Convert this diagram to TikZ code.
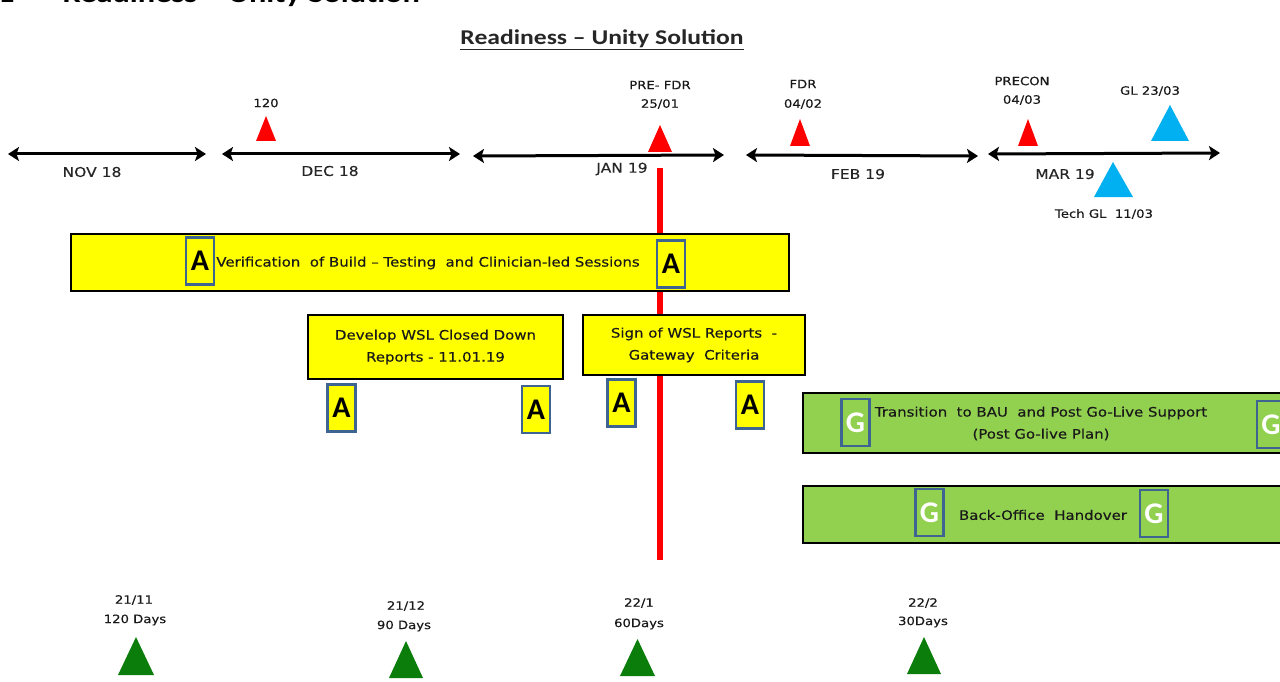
\documentclass[tikz,border=0pt]{standalone}
\usepackage{fontspec}
\setmainfont{DejaVu Sans}
\newfontfamily\labelfont[FakeStretch=1.15,FakeBold=0.35]{DejaVu Sans}
\newfontfamily\headfont[FakeStretch=1.22]{Carlito}
\newfontfamily\ragfont{Carlito}
\usetikzlibrary{arrows.meta}

\definecolor{amberfill}{HTML}{FFFF00}
\definecolor{greenfill}{HTML}{92D050}
\definecolor{ragframe}{HTML}{3E6591}
\definecolor{skyblue}{HTML}{00B0F0}
\definecolor{milegreen}{HTML}{0B7D0B}
\definecolor{alertred}{HTML}{FF0000}

\tikzset{
  small/.style={font=\labelfont\fontsize{11.5}{13}\selectfont, inner sep=0pt, text=black!90},
  monthlabel/.style={font=\labelfont\fontsize{13.5}{15}\selectfont, inner sep=0pt, text=black!85},
  monthline/.style={line width=3pt, {Stealth[length=11pt,width=14pt,inset=2.5pt]}-{Stealth[length=11pt,width=14pt,inset=2.5pt]}},
  tasktext/.style={inner sep=0pt, align=center, text=black!90,
    font=\labelfont\fontsize{13}{22}\selectfont},
  taskbox/.style={draw=black, line width=1.3pt, inner sep=0pt, align=center, text=black!90,
    font=\labelfont\fontsize{13}{22}\selectfont},
  ambertask/.style={taskbox, fill=amberfill},
  greentask/.style={taskbox, fill=greenfill},
  ragbox/.style={draw=ragframe, line width=2.8pt, inner sep=0pt,
    minimum width=28pt, minimum height=47pt, font=\ragfont\bfseries\fontsize{30}{30}\selectfont},
  ragA/.style={ragbox, fill=amberfill, text=black},
  ragG/.style={ragbox, fill=greenfill, text=white},
}

\begin{document}
\begin{tikzpicture}[x=1pt,y=-1pt]
\useasboundingbox (0,0) rectangle (1280,682);

% section heading, running past the top edge
\node[anchor=base west, inner sep=0pt, font=\headfont\bfseries\fontsize{26.5}{26.5}\selectfont]
  (sec) at (-2,2.5) {1\hspace{48pt}Readiness – Unity Solution};

% title
\node[inner sep=0pt, font=\headfont\bfseries\fontsize{21}{21}\selectfont, text=black!85]
  (title) at (602,40) {\underline{Readiness – Unity Solution}};

% month spans
\coordinate (nov-l) at (8,154);   \coordinate (nov-r) at (206,154);
\coordinate (dec-l) at (222,154); \coordinate (dec-r) at (460,154);
\coordinate (jan-l) at (473,156); \coordinate (jan-r) at (724,155);
\coordinate (feb-l) at (746,155); \coordinate (feb-r) at (978,156);
\coordinate (mar-l) at (988,154); \coordinate (mar-r) at (1220,153);
\draw[monthline] (nov-l) -- (nov-r);
\draw[monthline] (dec-l) -- (dec-r);
\draw[monthline] (jan-l) -- (jan-r);
\draw[monthline] (feb-l) -- (feb-r);
\draw[monthline] (mar-l) -- (mar-r);

\node[monthlabel] (nov) at (92,172) {NOV 18};
\node[monthlabel] (dec) at (330,171) {DEC 18};
\node[monthlabel] (jan) at (622,169) {JAN 19};
\node[monthlabel] (feb) at (858,174) {FEB 19};
\node[monthlabel] (mar) at (1065,174) {MAR 19};

% gateway line
\coordinate (gate-top) at (660,168);
\coordinate (gate-bot) at (660,560);
\draw[alertred, line width=6.5pt] (gate-top) -- (gate-bot);

% red milestones
\fill[alertred] (256,141) -- (266,116) -- (276,141) -- cycle;
\node[small] (m120) at (266,103) {120};
\fill[alertred] (648,152) -- (660,125) -- (672,152) -- cycle;
\node[small] (prefdr) at (660,85) {PRE- FDR};
\node[small] (prefdr-d) at (660,104) {25/01};
\fill[alertred] (790,146) -- (800,119) -- (810,146) -- cycle;
\node[small] (fdr) at (803,84) {FDR};
\node[small] (fdr-d) at (803,104) {04/02};
\fill[alertred] (1018,146) -- (1028,119) -- (1038,146) -- cycle;
\node[small] (precon) at (1022,81) {PRECON};
\node[small] (precon-d) at (1022,100) {04/03};

% go-live milestones
\fill[skyblue] (1151,141) -- (1170,105) -- (1189,141) -- cycle;
\node[small] (gl) at (1150,91) {GL 23/03};
\fill[skyblue] (1094,197) -- (1113,162) -- (1133,197) -- cycle;
\node[small] (techgl) at (1104,214) {Tech GL\ \ 11/03};

% amber tasks
\node[ambertask, minimum width=718pt, minimum height=57pt] (verify) at (430,262.5) {};
\node[tasktext] (verify-t) at (428,263)
  {Verification\ \ of Build – Testing\ \ and Clinician-led Sessions};
\node[ragA] (verify-a1) at (200,261) {A};
\node[ragA] (verify-a2) at (671,264) {A};

\node[ambertask, minimum width=255pt, minimum height=64pt] (wsl) at (435.5,347)
  {Develop WSL Closed Down\\Reports - 11.01.19};
\node[ragA] (wsl-a1) at (341.5,408) {A};
\node[ragA] (wsl-a2) at (536,409.5) {A};

\node[ambertask, minimum width=222pt, minimum height=60pt] (sign) at (694,345)
  {Sign of WSL Reports\ \ -\\Gateway\ \ Criteria};
\node[ragA] (sign-a1) at (621.5,403) {A};
\node[ragA] (sign-a2) at (750,405) {A};

% green tasks
\node[greentask, minimum width=500pt, minimum height=60pt] (bau) at (1053,423) {};
\node[tasktext] (bau-t) at (1041,423.5)
  {Transition\ \ to BAU\ \ and Post Go-Live Support\\(Post Go-live Plan)};
\node[ragG] (bau-g1) at (855.5,422.5) {G};
\node[ragG] (bau-g2) at (1271,424.5) {G};

\node[greentask, minimum width=500pt, minimum height=57pt] (bo) at (1053,514.5) {};
\node[tasktext] (bo-t) at (1043,515) {Back-Office\ \ Handover};
\node[ragG] (bo-g1) at (929.5,512.5) {G};
\node[ragG] (bo-g2) at (1154,513.5) {G};

% countdown milestones
\fill[milegreen] (118,675) -- (136,637) -- (154,675) -- cycle;
\node[small] (d120) at (134,600) {21/11};
\node[small] (d120-t) at (135,620) {120 Days};
\fill[milegreen] (389,678) -- (406,641) -- (423,678) -- cycle;
\node[small] (d90) at (406,606) {21/12};
\node[small] (d90-t) at (404,626) {90 Days};
\fill[milegreen] (620,676) -- (637.5,639) -- (655,676) -- cycle;
\node[small] (d60) at (639,603) {22/1};
\node[small] (d60-t) at (639,624) {60Days};
\fill[milegreen] (907,674) -- (924,637) -- (941,674) -- cycle;
\node[small] (d30) at (923,603) {22/2};
\node[small] (d30-t) at (923,622) {30Days};
\end{tikzpicture}
\end{document}
